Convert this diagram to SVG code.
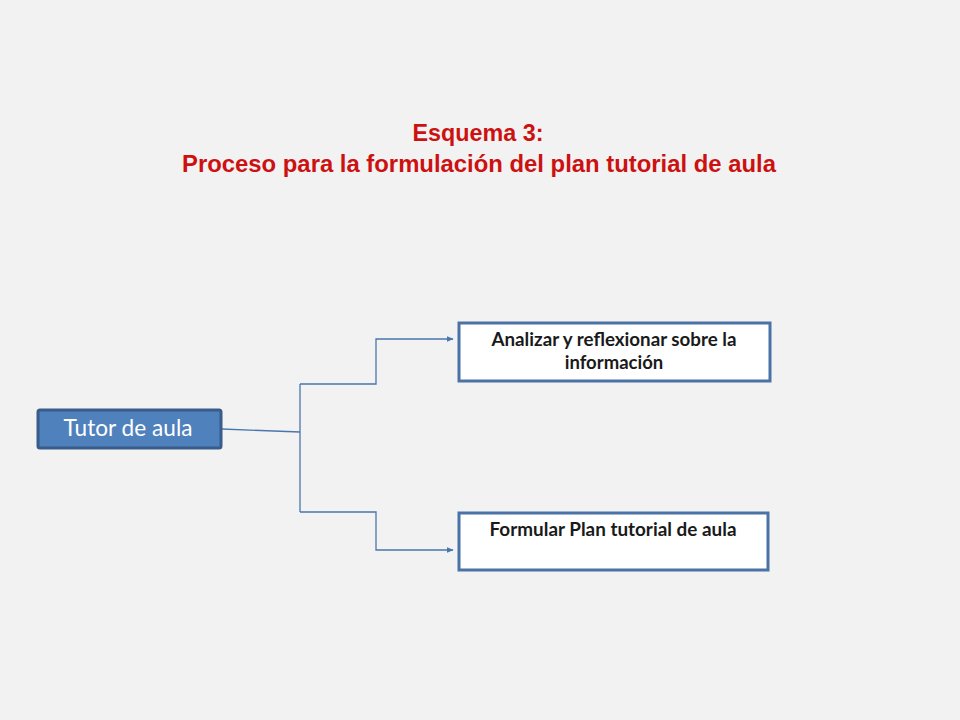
<svg xmlns="http://www.w3.org/2000/svg" width="960" height="720" viewBox="0 0 960 720">
<defs>
<style>
.title{font-family:"Liberation Sans",Arial,sans-serif;font-weight:bold;font-size:23px;fill:#cc1111;text-anchor:middle}
.lbl{font-family:Lato,"Open Sans",sans-serif;font-weight:bold;font-size:18.5px;fill:#1a1a1a;text-anchor:middle}
.box{fill:#ffffff;stroke:#4a72a6;stroke-width:3}
.conn{fill:none;stroke:#4a76ac;stroke-width:1.3}
</style>
<marker id="arr" viewBox="0 0 10 10" refX="9" refY="5" markerWidth="7" markerHeight="7" markerUnits="userSpaceOnUse" orient="auto">
<path d="M0,1 L10,5 L0,9 z" fill="#4a76ac"/>
</marker>
</defs>
<rect width="960" height="720" fill="#f2f2f2"/>
<g id="title">
<text class="title" x="478" y="141" textLength="131" lengthAdjust="spacingAndGlyphs">Esquema 3:</text>
<text class="title" x="479" y="172" textLength="594" lengthAdjust="spacingAndGlyphs">Proceso para la formulación del plan tutorial de aula</text>
</g>
<g id="connectors">
<path class="conn" d="M222,429 L300,432"/>
<path class="conn" d="M300,384 L300,512"/>
<path class="conn" marker-end="url(#arr)" d="M300,384 L376,384 L376,339 L453,339"/>
<path class="conn" marker-end="url(#arr)" d="M300,512 L376,512 L376,550 L453,550"/>
</g>
<g id="tutor">
<rect x="38" y="410" width="183" height="38" rx="2" fill="#4f81bd" stroke="#385d8a" stroke-width="3"/>
<text x="128" y="436" font-family="Lato,'Open Sans',sans-serif" font-size="22.5" fill="#ffffff" text-anchor="middle" textLength="129" lengthAdjust="spacingAndGlyphs">Tutor de aula</text>
</g>
<g id="analizar">
<rect class="box" x="459" y="323" width="311" height="58"/>
<text class="lbl" x="614" y="346" textLength="245" lengthAdjust="spacingAndGlyphs">Analizar y reflexionar sobre la</text>
<text class="lbl" x="614" y="369">información</text>
</g>
<g id="formular">
<rect class="box" x="459" y="513" width="309" height="57"/>
<text class="lbl" x="613" y="536" textLength="247" lengthAdjust="spacingAndGlyphs">Formular Plan tutorial de aula</text>
</g>
</svg>
